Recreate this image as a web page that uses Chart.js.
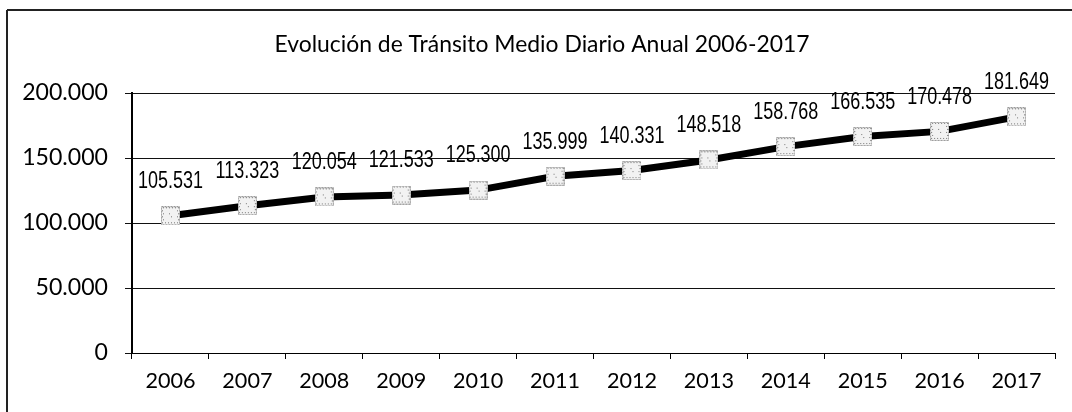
<!DOCTYPE html>
<html>
<head>
<meta charset="utf-8">
<script src="https://cdn.jsdelivr.net/npm/chart.js@4.4.1/dist/chart.umd.min.js"></script>
<style>
  html, body { margin: 0; padding: 0; background: #fff; }
  #wrap { width: 1072px; height: 412px; position: relative; }
</style>
</head>
<body>
<div id="wrap"><canvas id="c" width="1072" height="412"></canvas></div>
<script>
const titleText = 'Evolución de Tránsito Medio Diario Anual 2006-2017';
const years = ['2006','2007','2008','2009','2010','2011','2012','2013','2014','2015','2016','2017'];
const tmda = [105531, 113323, 120054, 121533, 125300, 135999, 140331, 148518, 158768, 166535, 170478, 181649];
const yTicks = [0, 50000, 100000, 150000, 200000];

const fmt = v => v.toLocaleString('de-DE');

// fit font sizes to widths measured on the reference
const mctx = document.createElement('canvas').getContext('2d');
function fitSize(text, family, target, weight) {
  mctx.font = (weight || 'normal') + ' 100px ' + family;
  const w = mctx.measureText(text).width;
  return Math.round(100 * target / w * 10) / 10;
}
const sansFam = 'Lato, "Open Sans", sans-serif';
const labelFam = '"Liberation Sans", Arial, sans-serif';
const titleSize = fitSize(titleText, sansFam, 535);
const yTickSize = fitSize('200.000', sansFam, 86);
const xTickSize = fitSize('2006', sansFam, 50);
const dlSize = 23;
mctx.font = dlSize + 'px ' + labelFam;
const dlScaleX = 65 / mctx.measureText('105.531').width;

// marker image: light square with dotted pattern
function makeMarker() {
  const s = 19;
  const cv = document.createElement('canvas');
  cv.width = s; cv.height = s;
  const g = cv.getContext('2d');
  g.fillStyle = '#f2f2f2';
  g.fillRect(0, 0, s, s);
  g.fillStyle = '#777';
  for (let y = 1; y < s; y += 3) {
    for (let x = 1 + (y % 2); x < s; x += 3) {
      if (x < 3 || x > s - 4 || y < 3 || y > s - 4 || ((x + y) % 5 === 0)) g.fillRect(x, y, 1, 1);
    }
  }
  g.strokeStyle = '#999';
  g.setLineDash([2, 1]);
  g.lineWidth = 1;
  g.strokeRect(0.5, 0.5, s - 1, s - 1);
  return cv;
}
const marker = makeMarker();

const framePlugin = {
  id: 'frame',
  beforeDraw(chart) {
    const ctx = chart.ctx;
    ctx.save();
    ctx.fillStyle = '#fff';
    ctx.fillRect(0, 0, chart.width, chart.height);
    ctx.strokeStyle = '#222';
    ctx.lineWidth = 2;
    ctx.beginPath();
    ctx.moveTo(7, 10); ctx.lineTo(chart.width, 10);
    ctx.moveTo(7, 10); ctx.lineTo(7, chart.height);
    ctx.stroke();
    ctx.fillStyle = '#000';
    ctx.font = titleSize + 'px ' + sansFam;
    ctx.textAlign = 'center';
    ctx.textBaseline = 'middle';
    ctx.fillText(titleText, 542, 45);
    ctx.restore();
  }
};

const labelPlugin = {
  id: 'vlabels',
  afterDatasetsDraw(chart) {
    const ctx = chart.ctx;
    const meta = chart.getDatasetMeta(0);
    meta.data.forEach((pt, i) => {
      ctx.save();
      ctx.fillStyle = '#000';
      ctx.font = dlSize + 'px ' + labelFam;
      ctx.textAlign = 'center';
      ctx.textBaseline = 'middle';
      ctx.translate(pt.x, pt.y - 34);
      ctx.scale(dlScaleX, 1);
      ctx.fillText(fmt(tmda[i]), 0, 0);
      ctx.restore();
    });
  }
};

new Chart(document.getElementById('c'), {
  type: 'line',
  data: {
    labels: years,
    datasets: [{
      data: tmda,
      borderColor: '#000',
      borderWidth: 7,
      pointStyle: marker,
      pointRadius: 9,
      tension: 0,
      fill: false
    }]
  },
  options: {
    responsive: false,
    animation: false,
    devicePixelRatio: 1,
    layout: { padding: { top: 93, right: 17, left: 0, bottom: 0 } },
    plugins: {
      legend: { display: false },
      title: { display: false },
      tooltip: { enabled: false }
    },
    scales: {
      x: {
        offset: true,
        afterFit(axis) { axis.height = 59; },
        grid: {
          offset: true,
          drawOnChartArea: false,
          drawTicks: true,
          tickLength: 6,
          color: '#000',
          lineWidth: 1
        },
        border: { display: true, color: '#000', width: 1 },
        ticks: {
          color: '#000',
          padding: 9,
          maxRotation: 0,
          autoSkip: false,
          font: { family: sansFam, size: xTickSize }
        }
      },
      y: {
        min: 0,
        max: 200000,
        afterFit(axis) { axis.width = 132; },
        afterBuildTicks(axis) { axis.ticks = yTicks.map(v => ({ value: v })); },
        grid: {
          color: '#111',
          lineWidth: 1,
          drawTicks: true,
          tickLength: 7
        },
        border: { display: true, color: '#000', width: 2 },
        ticks: {
          color: '#000',
          padding: 17,
          font: { family: sansFam, size: yTickSize },
          callback: v => fmt(v)
        }
      }
    }
  },
  plugins: [framePlugin, labelPlugin]
});
</script>
</body>
</html>
